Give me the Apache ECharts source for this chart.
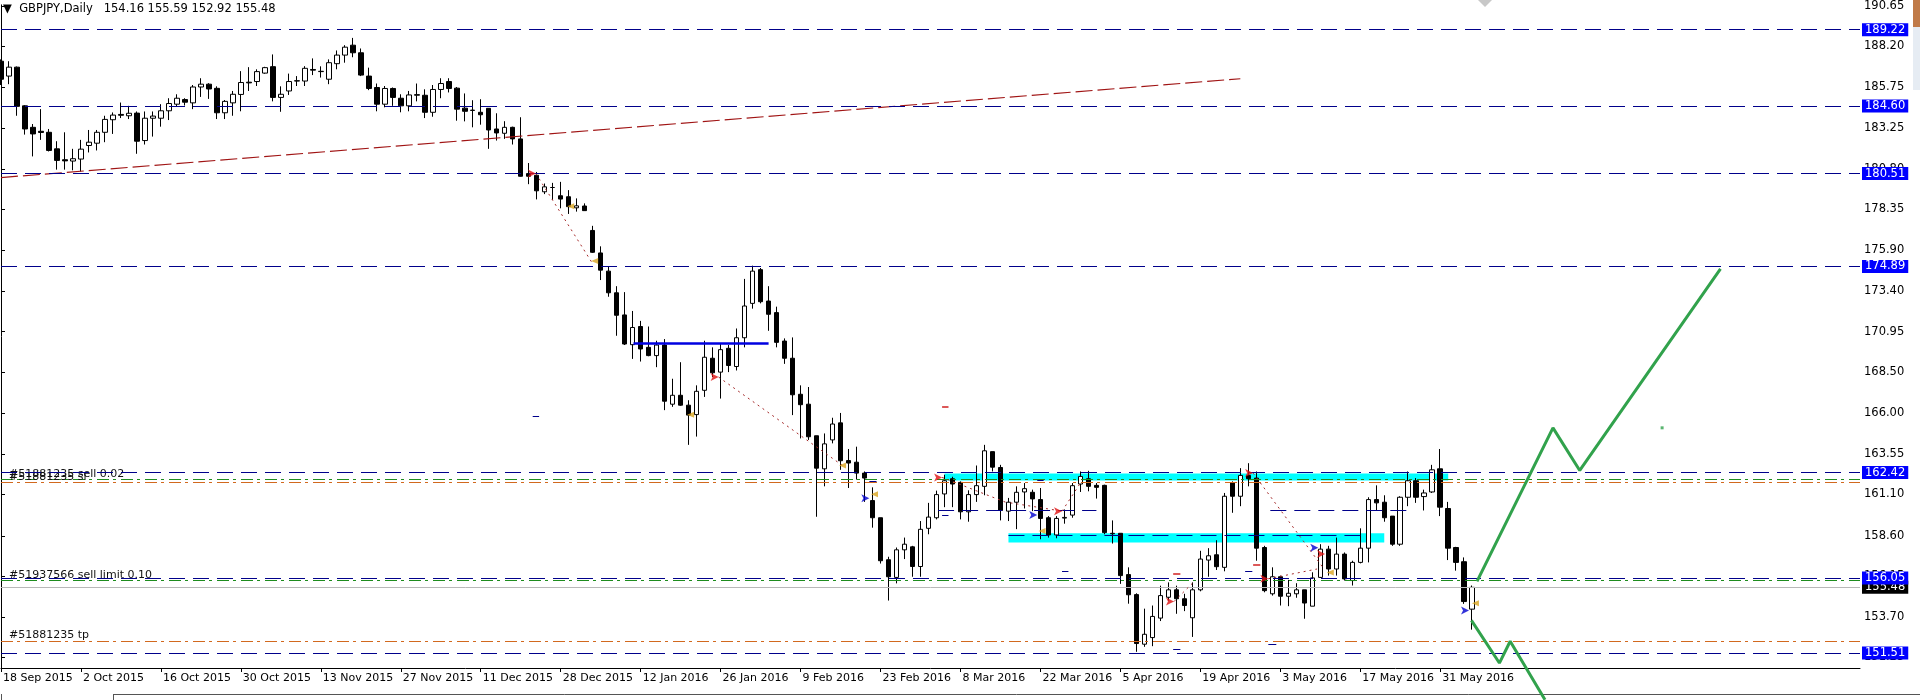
<!DOCTYPE html>
<html>
<head>
<meta charset="utf-8">
<title>GBPJPY,Daily</title>
<script src="https://cdn.jsdelivr.net/npm/echarts@6/dist/echarts.min.js"></script>
<style>
    html, body { margin: 0; padding: 0; background: #fff; }
    #main { width: 1920px; height: 700px; }
</style>
</head>
<body>
<div id="main"></div>
<script>
// daily bars from 18 Sep 2015, MT4 order: open, high, low, close
var candles = [
    [187.31,187.42,185.87,186.22],[186.41,187.31,185.92,186.95],[186.95,186.99,184.01,184.58],[184.61,184.65,182.87,183.21],
    [183.31,183.51,181.55,182.91],[183.07,184.41,182.55,183.00],[183.01,183.21,181.85,181.91],[182.01,182.47,180.75,181.31],
    [181.35,183.01,180.75,181.28],[181.27,182.01,180.71,181.41],[181.39,182.55,180.63,181.99],[182.21,183.15,181.79,182.41],
    [182.35,183.15,181.91,183.01],[183.01,184.01,182.41,183.79],[183.77,184.21,182.91,184.05],[184.09,184.81,183.87,184.04],
    [184.01,184.61,183.81,184.16],[184.17,184.27,181.71,182.47],[182.51,184.27,182.27,183.86],[183.86,184.27,182.75,183.99],
    [183.86,184.71,183.35,184.31],[184.31,185.07,183.75,184.75],[184.71,185.31,184.57,185.07],[184.99,185.07,184.63,184.83],
    [184.79,185.87,184.41,185.75],[185.75,186.28,185.15,185.92],[185.92,185.98,185.03,185.63],[185.67,185.79,183.81,184.19],
    [184.19,184.96,183.81,184.88],[184.79,185.51,184.01,185.31],[185.30,186.71,184.28,186.02],[186.04,186.95,185.51,186.00],
    [186.08,186.82,185.81,186.68],[186.59,186.97,186.55,186.92],[186.98,187.72,184.88,185.12],[185.12,185.79,184.25,185.31],
    [185.51,186.56,185.27,186.08],[186.11,186.41,185.81,186.13],[186.11,187.01,185.81,186.88],[186.81,187.48,186.47,186.77],
    [186.68,187.00,186.32,186.70],[186.22,187.42,185.92,187.22],[187.16,187.96,186.82,187.68],[187.68,188.28,187.22,188.16],
    [188.28,188.72,187.55,187.82],[187.82,188.08,186.41,186.47],[186.41,186.92,185.56,185.66],[185.72,185.96,184.28,184.71],
    [184.71,185.81,184.52,185.66],[185.66,185.72,184.61,185.12],[185.07,185.31,184.22,184.61],[184.61,185.51,184.28,185.27],
    [185.25,185.96,184.88,185.29],[185.25,185.61,183.87,184.22],[184.22,185.87,183.95,185.60],[185.60,186.28,185.07,185.96],
    [186.08,186.28,185.42,185.66],[185.68,185.75,183.71,184.41],[184.47,185.36,183.67,184.28],[184.35,184.95,183.31,184.33],
    [184.22,185.01,183.47,184.07],[184.46,184.46,182.01,183.15],[183.21,184.16,182.51,182.97],[182.95,183.68,182.61,183.31],
    [183.31,183.35,182.27,182.61],[182.61,183.92,180.33,180.35],[180.51,181.15,179.87,180.35],[180.41,180.61,178.95,179.47],
    [179.41,179.91,179.27,179.71],[179.67,179.95,178.91,179.67],[179.17,180.01,178.41,178.97],[179.11,179.51,178.07,178.51],
    [178.44,179.01,178.21,178.56],[178.55,178.71,178.27,178.27],[177.07,177.35,175.71,175.75],[175.71,176.11,174.07,174.67],
    [174.61,174.91,173.06,173.30],[173.30,173.70,170.70,171.94],[171.96,173.34,170.14,170.20],[170.16,172.20,169.30,171.20],
    [171.26,171.60,169.14,169.90],[170.00,171.26,169.46,169.50],[169.50,170.40,168.80,170.14],[170.14,170.50,166.20,166.74],
    [166.56,168.10,166.40,167.10],[167.10,169.10,166.46,166.50],[166.50,166.80,164.10,165.90],[165.93,167.70,164.60,167.34],
    [167.40,170.40,167.00,169.40],[169.34,170.00,168.20,168.46],[168.50,170.20,166.90,169.86],[169.94,170.14,168.50,168.90],
    [168.84,171.14,168.60,170.58],[170.58,174.14,170.00,172.50],[172.66,174.94,172.34,174.61],[174.70,174.80,172.66,172.76],
    [172.80,173.70,171.00,172.00],[172.10,172.46,170.00,170.30],[170.38,170.54,169.00,169.34],[169.34,170.60,165.90,167.13],
    [167.16,167.70,164.49,166.53],[166.56,167.60,164.40,164.59],[164.65,164.65,159.75,162.69],[162.65,164.79,161.59,164.16],
    [164.40,165.74,164.19,165.36],[165.43,166.03,162.59,163.14],[163.15,163.85,161.49,163.00],[163.05,163.99,162.00,162.39],
    [162.39,162.49,160.65,162.09],[160.73,161.53,159.09,159.69],[159.69,159.69,156.92,157.09],[157.15,157.33,154.68,156.12],
    [156.08,157.89,155.72,157.75],[157.75,158.49,157.19,158.09],[157.93,157.99,156.12,156.74],[156.74,159.49,156.12,158.99],
    [159.05,160.59,158.69,159.73],[159.69,161.33,159.59,161.09],[161.13,162.29,160.33,161.93],[162.05,162.17,160.33,161.73],
    [161.83,161.89,159.59,160.05],[160.05,161.35,159.45,161.09],[161.09,162.85,160.65,161.63],[161.59,164.10,161.05,163.74],
    [163.69,163.69,162.49,162.75],[162.73,162.89,159.53,160.13],[160.09,160.89,159.49,160.63],[160.63,161.59,159.00,161.23],
    [161.25,161.79,160.25,161.45],[161.23,161.39,160.09,160.83],[160.79,161.49,158.39,159.65],[159.69,159.79,158.49,158.65],
    [158.65,159.79,158.45,159.65],[159.67,160.19,159.33,159.71],[159.85,161.79,159.69,161.63],[161.73,162.49,161.25,162.19],
    [162.05,162.53,161.29,161.59],[161.65,161.79,160.85,161.53],[161.65,161.69,158.69,158.79],[158.75,159.53,158.13,158.72],
    [158.75,158.75,155.69,156.19],[156.25,156.69,154.49,155.03],[155.04,155.12,151.58,152.08],[152.04,154.19,151.88,152.64],
    [152.44,154.38,151.92,153.72],[153.62,155.58,153.44,154.98],[154.88,155.78,154.68,155.33],[155.33,155.58,153.88,154.79],
    [154.79,155.09,154.04,154.38],[153.64,155.78,152.48,155.33],[155.33,157.69,155.24,157.19],[157.13,157.85,156.12,157.39],
    [157.45,158.33,156.53,156.73],[156.69,161.19,156.45,160.99],[161.79,161.89,159.99,160.99],[160.99,162.69,160.39,162.25],
    [162.25,162.99,161.59,162.05],[162.09,162.49,157.09,157.85],[157.89,157.99,155.18,155.28],[155.09,156.69,154.98,156.12],
    [156.12,156.19,154.38,154.94],[154.94,155.93,154.34,155.12],[155.09,155.73,154.85,155.33],[155.33,155.33,153.58,154.53],
    [154.34,156.39,154.34,156.05],[156.08,158.09,156.05,157.79],[157.79,157.99,156.19,156.59],[156.59,158.49,156.19,157.49],
    [157.49,157.59,155.89,155.99],[155.89,157.09,155.59,156.99],[156.99,159.05,156.93,157.85],[157.85,160.93,156.99,160.79],
    [160.79,161.65,160.13,160.59],[160.63,161.05,159.45,159.69],[159.79,159.79,157.99,158.09],[158.09,160.99,157.99,160.93],
    [160.93,162.49,160.39,161.93],[161.93,162.09,160.59,160.93],[160.97,161.39,160.13,161.19],[161.25,162.89,161.19,162.59],
    [162.65,163.85,159.79,160.33],[160.25,160.65,157.13,157.85],[157.89,157.93,156.49,156.99],[157.03,157.29,154.48,154.62],
    [154.16,155.59,152.92,155.48]
];

// one label every 10 bars
var dateTicks = ['18 Sep 2015', '2 Oct 2015', '16 Oct 2015', '30 Oct 2015', '13 Nov 2015', '27 Nov 2015',
    '11 Dec 2015', '28 Dec 2015', '12 Jan 2016', '26 Jan 2016', '9 Feb 2016', '23 Feb 2016', '8 Mar 2016',
    '22 Mar 2016', '5 Apr 2016', '19 Apr 2016', '3 May 2016', '17 May 2016', '31 May 2016'];
var priceTicks = [190.65, 188.20, 185.75, 183.25, 180.80, 178.35, 175.90, 173.40, 170.95, 168.50,
    166.00, 163.55, 161.10, 158.60, 156.15, 153.70, 151.25];

// horizontal levels
var levels = [189.22, 184.60, 180.51, 174.89, 162.42, 156.05, 151.51];
var lastPrice = 155.48;
var orderLevels = [161.99, 155.88];
var orderNames = ['#51881235 sell 0.02', '#51937566 sell limit 0.10'];
var stopLevels = [161.83, 152.23];
var stopNames = ['#51881235 sl', '#51881235 tp'];

// drawn objects: [bar index, price]
var trendLine = [[0, 180.27], [155, 186.25]];
var zones = [[118, 161.94, 181, 162.37], [126, 158.19, 173, 158.75]];
var blueSolid = [[79.1, 96, 170.26]];
var blueDashed = [[117.2, 137, 160.13], [158.75, 176.25, 160.13], [126, 170, 158.65]];
var tradeLines = [
    [66.9, 180.51, 74.1, 174.98], [89.75, 168.20, 105.25, 162.85], [117.7, 162.13, 125.8, 160.60],
    [126.25, 160.59, 132.7, 160.09], [132.7, 160.09, 135.0, 161.79], [156.6, 162.39, 165.25, 156.73],
    [158.5, 156.00, 164.6, 156.59], [146.7, 154.62, 149.2, 155.82]
];
var blueTicks = [[66.5, 67.3, 165.85], [117.7, 118.5, 159.83], [108.6, 109.5, 161.89], [132.7, 133.5, 156.47],
    [129.6, 130.4, 161.95], [146.6, 147.5, 151.72], [155.6, 156.5, 156.47], [158.5, 159.5, 152.04]];
var redTicks = [[117.7, 118.5, 166.40], [146.6, 147.5, 156.29], [156.6, 157.5, 156.83]];
var entryMarks = [[66.9, 180.51], [89.75, 168.20], [117.7, 162.13], [132.7, 160.09], [146.7, 154.62],
    [156.6, 162.39], [158.5, 156.00], [165.6, 157.50]];
var exitMarks = [[71.25, 178.53], [74.25, 175.22], [86.25, 165.92], [105.25, 162.85], [109.25, 161.11],
    [130.2, 158.89], [166.25, 156.38], [184.4, 154.52]];
var blueMarks = [[108.6, 160.87], [129.6, 159.85], [164.75, 157.87], [183.6, 154.08]];
var projectionUp = [[184.6, 155.84], [194.1, 165.13], [197.45, 162.55], [215.05, 174.75]];
var projectionDown = [[183.9, 153.48], [187.4, 150.90], [188.75, 152.22], [193.1, 148.68]];
var greenDot = [[207.75, 165.13]];

var FONT = 'DejaVu Sans';

function segments(list) {
    return list.map(function (s) {
        return [{ coord: [s[0], s[2]] }, { coord: [s[1], s[2]] }];
    });
}

var myChart = echarts.init(document.getElementById('main'));

var option = {
    animation: false,
    backgroundColor: '#fff',
    textStyle: { fontFamily: FONT },
    title: {
        text: '\u25BC  GBPJPY,Daily   154.16 155.59 152.92 155.48',
        left: 3,
        top: 3,
        padding: 0,
        textStyle: { fontFamily: FONT, fontSize: 11.5, fontWeight: 'normal', color: '#000' }
    },
    grid: { left: 0, right: 60, top: 0, bottom: 32 },
    xAxis: {
        type: 'value',
        min: 0,
        max: 232.5,
        axisLine: { onZero: false, lineStyle: { color: '#000', width: 1 } },
        axisTick: { show: true, length: 4, customValues: dateTicks.map(function (d, k) { return k * 10; }), lineStyle: { color: '#000' } },
        axisLabel: {
            customValues: dateTicks.map(function (d, k) { return k * 10; }),
            formatter: function (v) { return dateTicks[Math.round(v / 10)]; },
            align: 'left',
            padding: [0, 0, 0, 2],
            margin: 5,
            color: '#000',
            fontFamily: FONT,
            fontSize: 11
        },
        splitLine: { show: false }
    },
    yAxis: {
        type: 'value',
        position: 'right',
        min: 150.60,
        max: 190.72,
        axisLine: { show: true, lineStyle: { color: '#000', width: 1 } },
        axisTick: { show: true, length: 4, customValues: priceTicks, lineStyle: { color: '#000' } },
        axisLabel: {
            customValues: priceTicks,
            formatter: function (v) { return v.toFixed(2); },
            margin: 4,
            color: '#000',
            fontFamily: FONT,
            fontSize: 11.5
        },
        splitLine: { show: false }
    },
    graphic: [
        { type: 'polygon', shape: { points: [[1478, 0], [1492, 0], [1485, 7]] }, style: { fill: '#c8c8c8' } },
        { type: 'rect', shape: { x: 1913, y: 0, width: 7, height: 27 }, style: { fill: '#c07a48' } },
        { type: 'rect', shape: { x: 1913, y: 27, width: 7, height: 63 }, style: { fill: '#e6ecf3' } },
        { type: 'line', shape: { x1: 113, y1: 694.5, x2: 1920, y2: 694.5 }, style: { stroke: '#555', lineWidth: 1 } },
        { type: 'line', shape: { x1: 113.5, y1: 694, x2: 113.5, y2: 700 }, style: { stroke: '#555', lineWidth: 1 } },
        { type: 'line', shape: { x1: 1.5, y1: 694, x2: 1.5, y2: 700 }, style: { stroke: '#555', lineWidth: 1 } }
    ],
    series: [
        {
            name: 'zones',
            type: 'line',
            data: [],
            z: 1,
            markArea: {
                silent: true,
                itemStyle: { color: '#00FFFF', opacity: 1 },
                data: zones.map(function (r) {
                    return [{ coord: [r[0], r[1]] }, { coord: [r[2], r[3]] }];
                })
            }
        },
        {
            name: 'GBPJPY',
            type: 'candlestick',
            z: 2,
            barWidth: 5,
            encode: { x: 0, y: [1, 2, 3, 4] },
            data: candles.map(function (c, i) { return [i, c[0], c[3], c[2], c[1]]; }),
            itemStyle: {
                color: '#fff',
                color0: '#000',
                borderColor: '#000',
                borderColor0: '#000',
                borderColorDoji: '#000',
                borderWidth: 1
            }
        },
        {
            name: 'trend',
            type: 'line',
            z: 3,
            data: trendLine,
            showSymbol: false,
            lineStyle: { color: '#a01414', width: 1.2, type: [17, 5] }
        },
        {
            name: 'last',
            type: 'line',
            data: [],
            markLine: {
                z: 4,
                silent: true,
                symbol: ['none', 'none'],
                lineStyle: { color: '#b8b8b8', width: 1, type: 'solid' },
                label: {
                    position: 'end', distance: 2, color: '#fff', backgroundColor: '#000',
                    padding: [1, 3, 0, 3], fontFamily: FONT, fontSize: 11.5,
                    formatter: function (p) { return p.value.toFixed(2); }
                },
                data: [{ yAxis: lastPrice }]
            }
        },
        {
            name: 'orders',
            type: 'line',
            data: [],
            markLine: {
                z: 5,
                silent: true,
                symbol: ['none', 'none'],
                lineStyle: { color: '#1e8c1e', width: 1, type: [12, 4, 3, 5] },
                label: {
                    position: 'insideStartTop', distance: [8, 0], color: '#111',
                    fontFamily: FONT, fontSize: 11,
                    formatter: function (p) { return p.name; }
                },
                data: orderLevels.map(function (v, k) { return { yAxis: v, name: orderNames[k] }; })
            }
        },
        {
            name: 'stops',
            type: 'line',
            data: [],
            markLine: {
                z: 5,
                silent: true,
                symbol: ['none', 'none'],
                lineStyle: { color: '#d2691e', width: 1, type: [12, 4, 3, 5] },
                label: {
                    position: 'insideStartTop', distance: [8, 0], color: '#111',
                    fontFamily: FONT, fontSize: 11,
                    formatter: function (p) { return p.name; }
                },
                data: stopLevels.map(function (v, k) { return { yAxis: v, name: stopNames[k] }; })
            }
        },
        {
            name: 'levels',
            type: 'line',
            data: [],
            markLine: {
                z: 6,
                silent: true,
                symbol: ['none', 'none'],
                lineStyle: { color: '#00008b', width: 1, type: [16, 8] },
                label: {
                    position: 'end', distance: 2, color: '#fff', backgroundColor: '#0000ff',
                    padding: [1, 3, 0, 3], fontFamily: FONT, fontSize: 11.5,
                    formatter: function (p) { return p.value.toFixed(2); }
                },
                data: levels.map(function (v) { return { yAxis: v }; })
            }
        },
        {
            name: 'blue objects',
            type: 'line',
            data: [],
            markLine: {
                z: 5,
                silent: true,
                symbol: ['none', 'none'],
                label: { show: false },
                lineStyle: { color: '#0000e0', width: 2.5, type: 'solid' },
                data: segments(blueSolid)
            }
        },
        {
            name: 'blue dashed',
            type: 'line',
            data: [],
            markLine: {
                z: 5,
                silent: true,
                symbol: ['none', 'none'],
                label: { show: false },
                lineStyle: { color: '#00008b', width: 1, type: [16, 8] },
                data: segments(blueDashed).concat(segments(blueTicks))
            }
        },
        {
            name: 'red ticks',
            type: 'line',
            data: [],
            markLine: {
                z: 5,
                silent: true,
                symbol: ['none', 'none'],
                label: { show: false },
                lineStyle: { color: '#d02020', width: 1.5, type: 'solid' },
                data: segments(redTicks)
            }
        },
        {
            name: 'trades',
            type: 'line',
            data: [],
            markLine: {
                z: 5,
                silent: true,
                symbol: ['none', 'none'],
                label: { show: false },
                lineStyle: { color: '#a52a2a', width: 1, type: [2, 4] },
                data: tradeLines.map(function (t) {
                    return [{ coord: [t[0], t[1]] }, { coord: [t[2], t[3]] }];
                })
            }
        },
        {
            name: 'entries',
            type: 'scatter',
            z: 7,
            symbol: 'arrow',
            symbolRotate: -90,
            symbolSize: [6, 8],
            itemStyle: { color: '#e01010' },
            data: entryMarks
        },
        {
            name: 'exits',
            type: 'scatter',
            z: 7,
            symbol: 'triangle',
            symbolRotate: 90,
            symbolSize: [6, 7],
            itemStyle: { color: '#daa520' },
            data: exitMarks
        },
        {
            name: 'blue marks',
            type: 'scatter',
            z: 7,
            symbol: 'arrow',
            symbolRotate: -90,
            symbolSize: [6, 8],
            itemStyle: { color: '#0000d0' },
            data: blueMarks
        },
        {
            name: 'projection up',
            type: 'line',
            z: 8,
            clip: false,
            data: projectionUp,
            showSymbol: false,
            lineStyle: { color: '#31a24c', width: 3 }
        },
        {
            name: 'projection down',
            type: 'line',
            z: 8,
            clip: false,
            data: projectionDown,
            showSymbol: false,
            lineStyle: { color: '#31a24c', width: 3 }
        },
        {
            name: 'green dot',
            type: 'scatter',
            z: 8,
            symbol: 'rect',
            symbolSize: 3,
            itemStyle: { color: '#31a24c' },
            data: greenDot
        }
    ]
};

myChart.setOption(option);
</script>
</body>
</html>
